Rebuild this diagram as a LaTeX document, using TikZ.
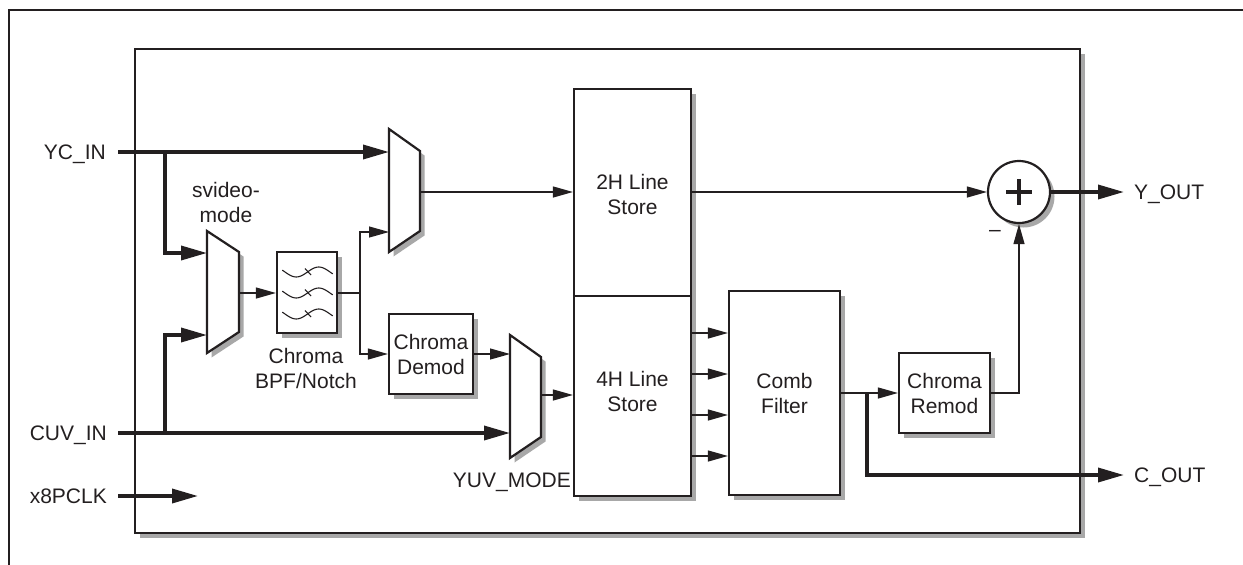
\documentclass[tikz,border=0pt]{standalone}
\usepackage{fontspec}
\setmainfont{Liberation Sans}
\usetikzlibrary{arrows.meta,shadows,calc}
\definecolor{ink}{HTML}{231F20}
\definecolor{shgray}{HTML}{A8A8A8}
\begin{document}
\begin{tikzpicture}[x=1pt,y=-1pt,
  font=\fontsize{21}{25}\selectfont,
  sh/.style={drop shadow={shadow xshift=4.5pt,shadow yshift=-4.5pt,fill=shgray,opacity=1,draw=none}},
  blk/.style={draw=ink,line width=2.2pt,fill=white,sh,inner sep=0pt,align=center,text=ink},
  muxst/.style={draw=ink,line width=2.2pt,fill=white,sh,line join=miter},
  thinarr/.style={draw=ink,line width=1.2pt,-{Triangle[length=20pt,width=11pt]}},
  thinln/.style={draw=ink,line width=1.2pt},
  thickarr/.style={draw=ink,line width=3.5pt,-{Triangle[length=26pt,width=14pt]}},
  lbl/.style={inner sep=0pt,text=ink,text height=15pt,text depth=0pt},
  mlbl/.style={inner sep=0pt,text=ink,align=center}
]
\useasboundingbox (0,0) rectangle (1243,565);
% outer frame
\draw[ink,line width=1.5pt] (9,565) -- (9,10) -- (1243,10);
% main box
\node[blk,line width=2.5pt,minimum width=945pt,minimum height=484pt] (main) at (607.5,291) {};
% blocks
\node[blk,minimum width=117pt,minimum height=407pt] (store) at (632.5,292.5) {};
\coordinate (dv) at (0,296);
\draw[thinln] (store.west |- dv) -- (store.east |- dv);
\node[mlbl] (t2h) at (632.5,194) {2H Line\\Store};
\node[mlbl] (t4h) at (632.5,391) {4H Line\\Store};
\node[blk,minimum width=60pt,minimum height=81pt] (filter) at (307,292.5) {};
\node[blk,minimum width=84pt,minimum height=80pt] (demod) at (431,354) {Chroma\\Demod};
\node[blk,minimum width=111pt,minimum height=204pt] (comb) at (784.5,393) {Comb\\Filter};
\node[blk,minimum width=91pt,minimum height=80pt] (remod) at (944.5,393) {Chroma\\Remod};
\node[blk,circle,minimum size=62pt] (circ) at (1019,192) {};
\draw[ink,line width=3.5pt] ($(circ)+(-13,0)$) -- ($(circ)+(13,0)$);
\draw[ink,line width=3.5pt] ($(circ)+(0,-13)$) -- ($(circ)+(0,13)$);
% filter waves
\foreach \yy in {272,293,314}{
  \draw[ink,line width=1.1pt,smooth,samples=30,domain=-0.06:1.06] plot ({285+45*\x},{\yy+5*sin(360*\x)});
  \draw[ink,line width=1.1pt] (305,\yy-3.5) -- (311,\yy+3);
}
% muxes
\draw[muxst] (389,129) -- (420,151) -- (420,231) -- (389,252) -- cycle;
\draw[muxst] (207,231) -- (239,252) -- (239,332) -- (207,353) -- cycle;
\draw[muxst] (510,335) -- (541,357) -- (541,437) -- (510,458) -- cycle;
\coordinate (m1a) at (389,152);
\coordinate (m1b) at (389,232);
\coordinate (m1o) at (420,192);
\coordinate (m2a) at (207,253);
\coordinate (m2b) at (207,335);
\coordinate (m2o) at (239,293);
\coordinate (m3a) at (510,354);
\coordinate (m3b) at (510,433);
\coordinate (m3o) at (541,395);
% labels
\node[lbl,anchor=east] (ycin) at (106,152) {YC\_IN};
\node[lbl,anchor=east] (cuvin) at (107,433) {CUV\_IN};
\node[lbl,anchor=east] (clk) at (107,496) {x8PCLK};
\node[lbl,anchor=west] (yout) at (1134,192) {Y\_OUT};
\node[lbl,anchor=west] (cout) at (1134,475) {C\_OUT};
\node[lbl,anchor=east] (yuvm) at (571,480) {YUV\_MODE};
\node[mlbl] (svm) at (226,202) {svideo-\\mode};
\node[mlbl] (bpf) at (306,368) {Chroma\\BPF/Notch};
\node[lbl] (minus) at (995,229) {\textendash};
% input connectors
\coordinate (yc0) at (118,152);
\coordinate (ycb) at (165,152);
\coordinate (cuv0) at (118,433);
\coordinate (cuvb) at (165,433);
\coordinate (clk0) at (118,496);
\coordinate (clk1) at (198,496);
\draw[thickarr] (yc0) -- (m1a);
\draw[thickarr] (ycb) |- (m2a);
\draw[thickarr] (cuv0) -- (m3b);
\draw[thickarr] (cuvb) |- (m2b);
\draw[thickarr] (clk0) -- (clk1);
% internal connectors
\draw[thinarr] (m2o) -- (filter.west |- m2o);
\coordinate (fj) at (360,293);
\draw[thinln] (filter.east |- fj) -- (fj);
\draw[thinarr] (fj) |- (m1b);
\draw[thinarr] (fj) |- (demod.west);
\draw[thinarr] (m1o) -- (store.west |- m1o);
\draw[thinarr] (demod.east) -- (m3a);
\draw[thinarr] (m3o) -- (store.west |- m3o);
\foreach \yy [count=\i] in {333,374,415,456}{
  \coordinate (sc\i) at (0,\yy);
  \draw[thinarr] (store.east |- sc\i) -- (comb.west |- sc\i);
}
\draw[thinarr] (store.east |- circ) -- (circ.west);
\coordinate (cj) at (867,393);
\coordinate (coutp) at (1124,475);
\coordinate (youtp) at (1124,192);
\draw[thinarr] (comb.east) -- (remod.west);
\draw[thickarr] (cj) |- (coutp);
\draw[thinarr] (remod.east) -| (circ.south);
\draw[thickarr] (circ.east) -- (youtp);
\end{tikzpicture}
\end{document}
